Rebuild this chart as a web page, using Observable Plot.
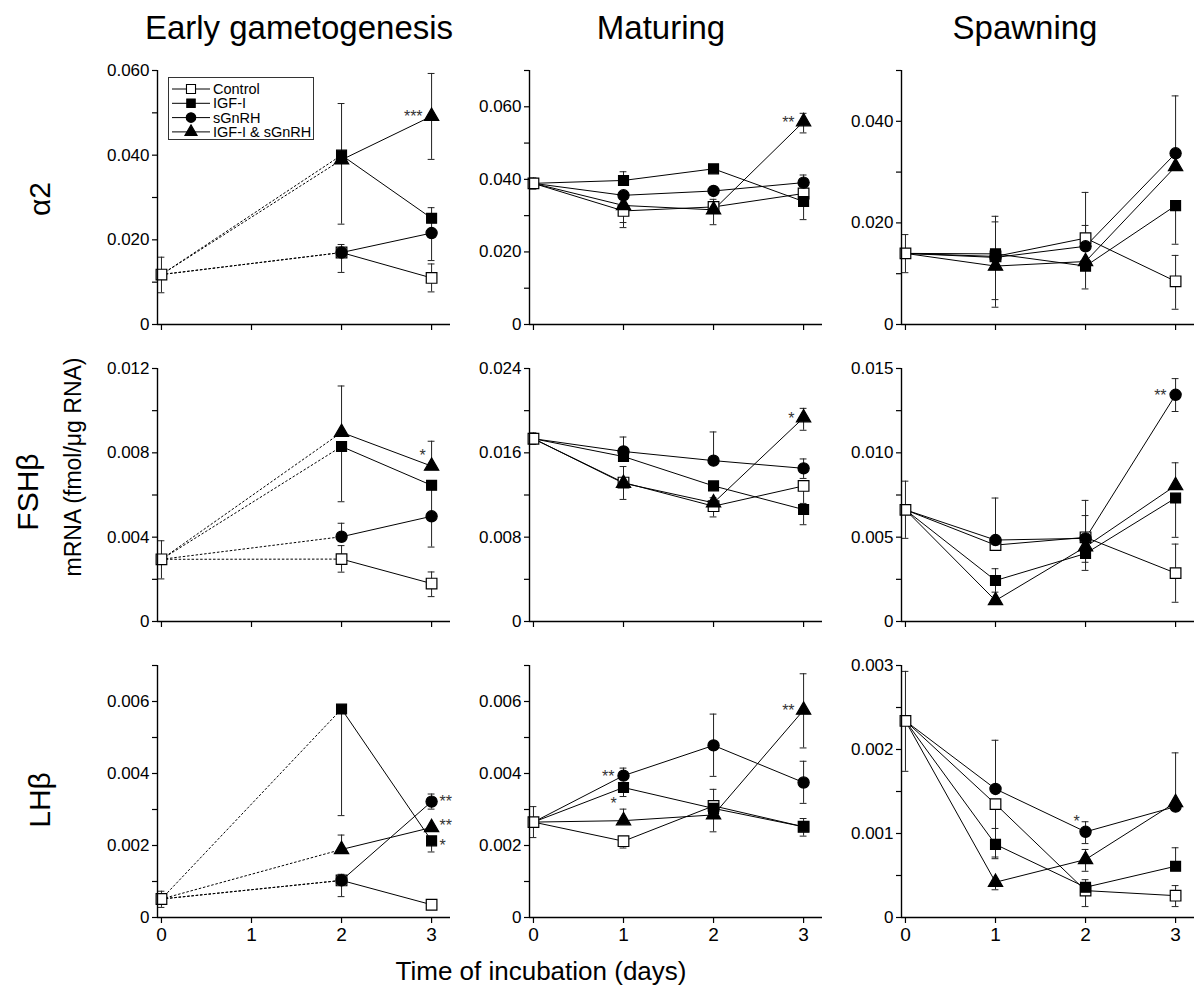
<!DOCTYPE html>
<html><head><meta charset="utf-8">
<script src="https://cdn.jsdelivr.net/npm/d3@7"></script>
<script src="https://cdn.jsdelivr.net/npm/@observablehq/plot@0.6"></script>
<style>
body{margin:0;background:#fff;}
#root{position:relative;width:1200px;height:994px;font-family:"Liberation Sans",Arial,Helvetica,sans-serif;color:#000;overflow:hidden;background:#fff}
.lbl{position:absolute;white-space:nowrap;transform:translate(-50%,-50%);line-height:1}
.rot{transform:translate(-50%,-50%) rotate(-90deg)}
.panel{position:absolute}
</style></head><body><div id="root"></div>
<script>
// ---------- data ----------
const seriesNames = ["Control", "IGF-I", "sGnRH", "IGF-I & sGnRH"];
const columnTitles = ["Early gametogenesis", "Maturing", "Spawning"];
const rowLabels = ["α2", "FSHβ", "LHβ"];
const yAxisTitle = "mRNA (fmol/μg RNA)";
const xAxisTitle = "Time of incubation (days)";
const xTicks = [0, 1, 2, 3];

const yMax = [[0.060, 0.070, 0.050], [0.012, 0.024, 0.015], [0.007, 0.007, 0.003]];
const yMajorTicks = [
  [[0, 0.02, 0.04, 0.06], [0, 0.02, 0.04, 0.06], [0, 0.02, 0.04]],
  [[0, 0.004, 0.008, 0.012], [0, 0.008, 0.016, 0.024], [0, 0.005, 0.010, 0.015]],
  [[0, 0.002, 0.004, 0.006], [0, 0.002, 0.004, 0.006], [0, 0.001, 0.002, 0.003]]
];
const yMinorTicks = [
  [[0.01, 0.03, 0.05], [0.01, 0.03, 0.05, 0.07], [0.01, 0.03, 0.05]],
  [[0.002, 0.006, 0.010], [0.004, 0.012, 0.020], [0.0025, 0.0075, 0.0125]],
  [[0.001, 0.003, 0.005, 0.007], [0.001, 0.003, 0.005, 0.007], [0.0005, 0.0015, 0.0025]]
];

// rows: [series, day, mean, error-bar low end, error-bar high end]
const a2Early = [
  ["Control", 0, 0.0118, 0.0075, 0.0159], ["Control", 2, 0.0170, 0.0123, 0.0189], ["Control", 3, 0.0110, 0.0077, 0.0143],
  ["IGF-I", 2, 0.0400, null, null], ["IGF-I", 3, 0.0251, null, null],
  ["sGnRH", 2, 0.0170, null, null], ["sGnRH", 3, 0.0216, 0.0151, 0.0276],
  ["IGF-I & sGnRH", 2, 0.0389, 0.0237, 0.0522], ["IGF-I & sGnRH", 3, 0.0492, 0.0390, 0.0593]
];
const a2Maturing = [
  ["Control", 0, 0.0389, 0.0373, 0.0404], ["Control", 1, 0.0313, 0.0267, null], ["Control", 2, 0.0324, null, 0.0345], ["Control", 3, 0.0361, null, null],
  ["IGF-I", 1, 0.0397, null, 0.0421], ["IGF-I", 2, 0.0429, null, null], ["IGF-I", 3, 0.0339, 0.0289, null],
  ["sGnRH", 1, 0.0356, null, null], ["sGnRH", 2, 0.0368, null, null], ["sGnRH", 3, 0.0391, null, 0.0412],
  ["IGF-I & sGnRH", 1, 0.0328, 0.0281, null], ["IGF-I & sGnRH", 2, 0.0316, 0.0275, null], ["IGF-I & sGnRH", 3, 0.0559, 0.0528, 0.0582]
];
const a2Spawning = [
  ["Control", 0, 0.0140, 0.0102, 0.0177], ["Control", 1, 0.0134, 0.0049, 0.0213], ["Control", 2, 0.0170, null, 0.0260], ["Control", 3, 0.0085, 0.0030, 0.0136],
  ["IGF-I", 1, 0.0139, null, null], ["IGF-I", 2, 0.0115, 0.0070, null], ["IGF-I", 3, 0.0234, 0.0158, null],
  ["sGnRH", 1, 0.0132, null, null], ["sGnRH", 2, 0.0154, null, 0.0195], ["sGnRH", 3, 0.0337, null, 0.0450],
  ["IGF-I & sGnRH", 1, 0.0115, 0.0034, 0.0202], ["IGF-I & sGnRH", 2, 0.0124, null, null], ["IGF-I & sGnRH", 3, 0.0311, null, null]
];
const fshEarly = [
  ["Control", 0, 0.00295, 0.00202, 0.00383], ["Control", 2, 0.00296, 0.00234, 0.00360], ["Control", 3, 0.00180, 0.00118, 0.00235],
  ["IGF-I", 2, 0.00830, 0.00568, null], ["IGF-I", 3, 0.00646, 0.00510, null],
  ["sGnRH", 2, 0.00402, null, 0.00466], ["sGnRH", 3, 0.00499, 0.00353, null],
  ["IGF-I & sGnRH", 2, 0.00897, null, 0.01117], ["IGF-I & sGnRH", 3, 0.00737, null, 0.00855]
];
const fshMaturing = [
  ["Control", 0, 0.01734, 0.0168, 0.0179], ["Control", 1, 0.01318, null, null], ["Control", 2, 0.01094, 0.00992, null], ["Control", 3, 0.01286, 0.0112, null],
  ["IGF-I", 1, 0.01565, null, null], ["IGF-I", 2, 0.01286, null, null], ["IGF-I", 3, 0.01062, 0.00918, null],
  ["sGnRH", 1, 0.01613, null, 0.0175], ["sGnRH", 2, 0.01526, null, 0.01798], ["sGnRH", 3, 0.01453, 0.01357, 0.01542],
  ["IGF-I & sGnRH", 1, 0.01312, 0.01158, 0.0147], ["IGF-I & sGnRH", 2, 0.01126, null, 0.01174], ["IGF-I & sGnRH", 3, 0.01933, 0.01814, 0.02022]
];
const fshSpawning = [
  ["Control", 0, 0.00662, 0.00493, 0.00832], ["Control", 1, 0.00453, null, null], ["Control", 2, 0.00499, null, 0.00718], ["Control", 3, 0.00287, 0.00114, 0.00459],
  ["IGF-I", 1, 0.00243, 0.00174, 0.00313], ["IGF-I", 2, 0.00403, 0.00351, null], ["IGF-I", 3, 0.00732, 0.00499, null],
  ["sGnRH", 1, 0.00483, null, 0.00732], ["sGnRH", 2, 0.00493, null, 0.00628], ["sGnRH", 3, 0.01344, 0.01245, 0.0144],
  ["IGF-I & sGnRH", 1, 0.00124, null, null], ["IGF-I & sGnRH", 2, 0.00443, 0.00303, null], ["IGF-I & sGnRH", 3, 0.00806, null, 0.00941]
];
const lhEarly = [
  ["Control", 0, 0.000514, 0.00028, 0.00073], ["Control", 2, 0.00103, 0.00058, null], ["Control", 3, 0.000355, null, null],
  ["IGF-I", 2, 0.00579, 0.00283, null], ["IGF-I", 3, 0.00213, 0.00182, null],
  ["sGnRH", 2, 0.00103, null, 0.0012], ["sGnRH", 3, 0.00322, 0.00301, 0.00343],
  ["IGF-I & sGnRH", 2, 0.00189, null, 0.00229], ["IGF-I & sGnRH", 3, 0.0025, null, null]
];
const lhMaturing = [
  ["Control", 0, 0.00265, 0.00222, 0.00308], ["Control", 1, 0.00212, 0.00193, null], ["Control", 2, 0.0031, null, 0.00356], ["Control", 3, 0.00252, null, null],
  ["IGF-I", 1, 0.00361, 0.00336, null], ["IGF-I", 2, 0.00303, null, null], ["IGF-I", 3, 0.00252, 0.00226, 0.00275],
  ["sGnRH", 1, 0.00394, null, 0.00415], ["sGnRH", 2, 0.00478, 0.00392, 0.00565], ["sGnRH", 3, 0.00375, 0.00317, 0.00434],
  ["IGF-I & sGnRH", 1, 0.00269, null, 0.00301], ["IGF-I & sGnRH", 2, 0.00285, 0.00238, null], ["IGF-I & sGnRH", 3, 0.00576, 0.00471, 0.00677]
];
const lhSpawning = [
  ["Control", 0, 0.00234, 0.00174, 0.00293], ["Control", 1, 0.00135, 0.00072, null], ["Control", 2, 0.00032, 0.00013, null], ["Control", 3, 0.00026, 0.00013, 0.00038],
  ["IGF-I", 1, 0.00087, 0.0007, 0.00106], ["IGF-I", 2, 0.00036, null, 0.00045], ["IGF-I", 3, 0.00061, null, 0.00083],
  ["sGnRH", 1, 0.00153, null, 0.00211], ["sGnRH", 2, 0.00102, 0.00088, 0.00114], ["sGnRH", 3, 0.00132, null, null],
  ["IGF-I & sGnRH", 1, 0.00042, 0.00033, null], ["IGF-I & sGnRH", 2, 0.00069, 0.00055, 0.00081], ["IGF-I & sGnRH", 3, 0.00137, null, 0.00196]
];

// significance marks: [row, col, series, day, label, side]
const significance = [
  [0, 0, "IGF-I & sGnRH", 3, "***", "L"],
  [0, 1, "IGF-I & sGnRH", 3, "**", "L"],
  [1, 0, "IGF-I & sGnRH", 3, "*", "LA"],
  [1, 1, "IGF-I & sGnRH", 3, "*", "L"],
  [1, 2, "sGnRH", 3, "**", "L"],
  [2, 0, "sGnRH", 3, "**", "R"],
  [2, 0, "IGF-I & sGnRH", 3, "**", "RA"],
  [2, 0, "IGF-I", 3, "*", "RB"],
  [2, 1, "sGnRH", 1, "**", "L"],
  [2, 1, "IGF-I", 1, "*", "LB"],
  [2, 1, "IGF-I & sGnRH", 3, "**", "L"],
  [2, 2, "sGnRH", 2, "*", "LA"]
];

const panelData = [[a2Early, a2Maturing, a2Spawning], [fshEarly, fshMaturing, fshSpawning], [lhEarly, lhMaturing, lhSpawning]];

// ---------- layout / style ----------
const FONT = '"Liberation Sans", Arial, Helvetica, sans-serif';
const colAxisX = [157, 529, 901];
const rowTop = [70, 368, 665];
const rowBottom = [324, 621, 917];
const ML = 70, MR = 7, MT = 16, MB = 44;
const XDOM = [-0.044, 3.21];
const markerStyle = {
  "Control": {symbol: "square", r: 6, fill: "white"},
  "IGF-I": {symbol: "square", r: 5.6, fill: "black"},
  "sGnRH": {symbol: "circle", r: 5.6, fill: "black"},
  "IGF-I & sGnRH": {symbol: "triangle", r: 5.3, fill: "black"}
};
const starPlace = {
  L: {dx: -9, dy: 1, textAnchor: "end"},
  R: {dx: 8, dy: 0, textAnchor: "start"},
  RA: {dx: 8, dy: -2, textAnchor: "start"},
  RB: {dx: 8, dy: 5, textAnchor: "start"},
  LA: {dx: -9, dy: -10, textAnchor: "middle"},
  LB: {dx: -10, dy: 16, textAnchor: "middle"}
};
const fmt = d => d === 0 ? "0" : d3.format(".3f")(d);

const root = document.getElementById("root");

function addLabel(text, cx, cy, size, rotate) {
  const el = document.createElement("div");
  el.className = "lbl" + (rotate ? " rot" : "");
  el.textContent = text;
  el.style.left = cx + "px";
  el.style.top = cy + "px";
  el.style.fontSize = size + "px";
  root.appendChild(el);
}

function makePanel(r, c) {
  const raw = panelData[r][c];
  const rows = raw.map(([s, day, v, lo, hi]) => ({s, day, v, lo, hi}));
  const base = rows.find(d => d.s === "Control" && d.day === 0);
  // line segments
  const solid = [], dashed = [];
  for (const s of seriesNames) {
    let pts = rows.filter(d => d.s === s).sort((a, b) => a.day - b.day);
    if (s !== "Control") pts = [base, ...pts];
    for (let i = 0; i < pts.length - 1; i++) {
      const seg = {x1: pts[i].day, y1: pts[i].v, x2: pts[i + 1].day, y2: pts[i + 1].v};
      if (c === 0 && pts[i].day === 0) dashed.push(seg); else solid.push(seg);
    }
  }
  // error bars (each half drawn separately)
  const bars = [];
  for (const d of rows) {
    if (d.lo != null) bars.push({day: d.day, from: d.v, to: d.lo});
    if (d.hi != null) bars.push({day: d.day, from: d.v, to: d.hi});
  }
  const capW = 0.038;
  const stars = significance.filter(t => t[0] === r && t[1] === c).map(([, , s, day, label, side]) => {
    const p = rows.find(d => d.s === s && d.day === day);
    return {day, v: p.v, label, side};
  });

  const H = rowBottom[r] - rowTop[r];
  const marks = [
    Plot.ruleX(bars, {x: "day", y1: "from", y2: "to", stroke: "#222", strokeWidth: 1}),
    Plot.ruleY(bars, {y: "to", x1: d => d.day - capW, x2: d => d.day + capW, stroke: "#222", strokeWidth: 1}),
    Plot.link(solid, {x1: "x1", y1: "y1", x2: "x2", y2: "y2", stroke: "black", strokeWidth: 1}),
    Plot.link(dashed, {x1: "x1", y1: "y1", x2: "x2", y2: "y2", stroke: "black", strokeWidth: 1, strokeDasharray: "2.5,1.8"}),
    ...seriesNames.map(s => Plot.dot(rows.filter(d => d.s === s), {
      x: "day", y: "v", symbol: markerStyle[s].symbol, r: markerStyle[s].r,
      fill: markerStyle[s].fill, stroke: "black", strokeWidth: 1.2
    })),
    ...Object.keys(starPlace).map(k => Plot.text(stars.filter(t => t.side === k), {
      x: "day", y: "v", text: "label", fontSize: 16, fill: "#333",
      dx: starPlace[k].dx, dy: starPlace[k].dy, textAnchor: starPlace[k].textAnchor, lineAnchor: "middle"
    })),
    Plot.axisY({ticks: yMajorTicks[r][c], tickSize: 5, tickPadding: 3, tickFormat: fmt, fontSize: 17, label: null, strokeWidth: 1.2}),
    Plot.axisY({ticks: yMinorTicks[r][c], tickSize: 5, tickFormat: () => "", label: null, strokeWidth: 1.2}),
    Plot.axisX({ticks: xTicks, tickSize: 6, tickPadding: 4, tickFormat: r === 2 ? (d => String(d)) : (() => ""), fontSize: 19, label: null, strokeWidth: 1.2}),
    Plot.ruleX([XDOM[0]], {stroke: "black", strokeWidth: 1.4}),
    Plot.ruleY([0], {stroke: "black", strokeWidth: 1.4})
  ];
  const chart = Plot.plot({
    width: ML + 293 + MR,
    height: MT + H + MB,
    marginLeft: ML, marginRight: MR, marginTop: MT, marginBottom: MB,
    x: {domain: XDOM},
    y: {domain: [0, yMax[r][c]]},
    style: {fontFamily: FONT, fontSize: "17px", color: "black", background: "transparent", overflow: "visible"},
    marks
  });
  chart.classList.add("panel");
  chart.style.left = (colAxisX[c] - ML) + "px";
  chart.style.top = (rowTop[r] - MT) + "px";
  root.appendChild(chart);
}

for (let r = 0; r < 3; r++) for (let c = 0; c < 3; c++) makePanel(r, c);

// titles
const colTitleX = [299, 661, 1025];
columnTitles.forEach((t, i) => addLabel(t, colTitleX[i], 27, 33, false));
const rowLabelPos = [[40, 199], [28, 492], [40, 800]];
rowLabels.forEach((t, i) => addLabel(t, rowLabelPos[i][0], rowLabelPos[i][1], 30, true));
addLabel(yAxisTitle, 73, 467, 23, true);
addLabel(xAxisTitle, 541, 971, 26, false);

// legend (inside first panel)
const leg = d3.select(root).append("svg")
  .attr("width", 160).attr("height", 70)
  .style("position", "absolute").style("left", "166px").style("top", "75px")
  .style("overflow", "visible");
leg.append("rect").attr("x", 2.5).attr("y", 2.5).attr("width", 145).attr("height", 62)
  .attr("fill", "white").attr("stroke", "#333").attr("stroke-width", 1);
const symGen = {square: d3.symbolSquare, circle: d3.symbolCircle, triangle: d3.symbolTriangle};
seriesNames.forEach((s, i) => {
  const y = 14 + i * 14.3;
  const g = leg.append("g").attr("transform", `translate(0,${y})`);
  g.append("line").attr("x1", 6).attr("x2", 44).attr("y1", 0).attr("y2", 0).attr("stroke", "black").attr("stroke-width", 1);
  const m = markerStyle[s];
  g.append("path").attr("d", d3.symbol(symGen[m.symbol], Math.PI * (m.r * 0.85) ** 2)())
    .attr("transform", "translate(25,0)").attr("fill", m.fill).attr("stroke", "black").attr("stroke-width", 1.1);
  g.append("text").attr("x", 47).attr("y", 0).attr("dy", "0.35em").attr("font-size", 14.5)
    .attr("font-family", FONT).text(s);
});
</script></body></html>
